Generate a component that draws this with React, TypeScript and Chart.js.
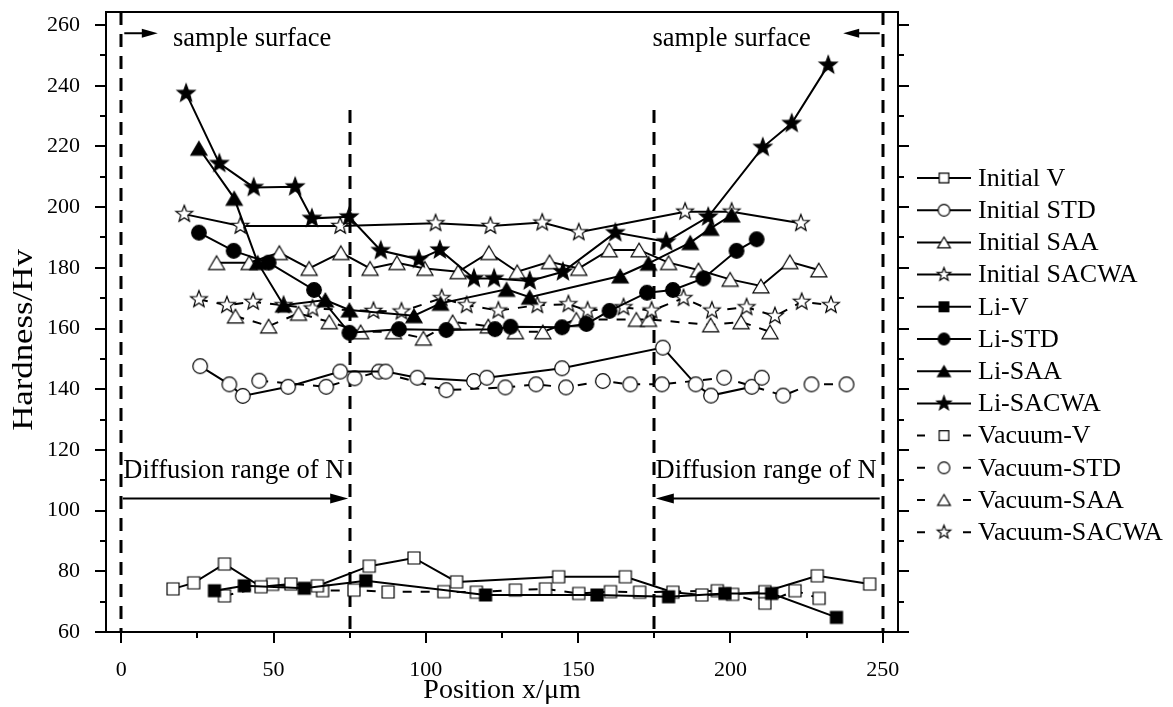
import React, { useEffect, useRef } from 'react';
import { Chart, registerables } from 'chart.js';

Chart.register(...registerables);

const FONT_FAMILY = '"Liberation Serif", "Times New Roman", Times, serif';

// ---------------- data ----------------
const seriesNames = [
  'Initial V', 'Initial STD', 'Initial SAA', 'Initial SACWA',
  'Li-V', 'Li-STD', 'Li-SAA', 'Li-SACWA',
  'Vacuum-V', 'Vacuum-STD', 'Vacuum-SAA', 'Vacuum-SACWA',
];

const initialVX = [17, 23.8, 33.9, 45.9, 55.7, 64.4, 81.4, 96.1, 110.1, 143.6, 165.5, 181.1, 190.6, 200.7, 211.3, 228.5, 245.7];
const initialVY = [74.2, 76.2, 82.4, 74.9, 75.8, 75.2, 81.7, 84.4, 76.5, 78.2, 78.2, 73.1, 72.2, 72.4, 73.3, 78.5, 75.8];

const initialSTDX = [25.9, 35.5, 39.9, 54.8, 71.9, 86.8, 97.2, 115.8, 120, 144.7, 177.8, 188.6, 193.6, 207, 210.3];
const initialSTDY = [147.6, 141.6, 137.8, 140.8, 145.8, 145.8, 143.8, 142.7, 143.8, 146.9, 153.7, 141.6, 137.9, 140.8, 143.8];

const initialSAAX = [31.3, 42, 51.9, 61.7, 72.1, 81.7, 90.5, 99.7, 110.6, 120.7, 130, 140.6, 150.2, 160.2, 170, 179.7, 189.5, 199.9, 210, 219.5, 229];
const initialSAAY = [181.7, 181.7, 185, 179.8, 185, 179.8, 181.7, 179.8, 178.7, 185, 178.7, 182, 179.8, 185.9, 185.9, 181.7, 179.3, 176.2, 174, 182, 179.3];

const initialSACWAX = [20.7, 39.1, 71.9, 103.2, 121.2, 138.2, 150.2, 185.1, 200.4, 223.1];
const initialSACWAY = [197.7, 193.8, 193.8, 194.7, 193.8, 194.9, 191.7, 198.5, 198.5, 194.7];

const liVX = [30.6, 40.4, 60.1, 80.3, 119.6, 156.2, 179.7, 198.2, 213.5, 234.8];
const liVY = [73.6, 75.2, 74.4, 76.9, 72.2, 72.2, 71.6, 72.7, 72.7, 64.8];

const liSTDX = [25.5, 36.9, 48.4, 63.3, 74.9, 91.2, 106.7, 122.7, 127.8, 144.7, 152.7, 160.3, 172.6, 181.1, 191.1, 202, 208.6];
const liSTDY = [191.6, 185.6, 181.7, 172.7, 158.6, 159.8, 159.5, 159.8, 160.6, 160.4, 161.5, 165.8, 171.8, 172.7, 176.5, 185.6, 189.4];

const liSAAX = [25.5, 37.1, 44.8, 53.3, 67, 74.9, 96.1, 104.8, 126.5, 134.1, 163.8, 173.1, 186.8, 193.5, 200.4];
const liSAAY = [219.4, 202.9, 181.7, 167.7, 169.4, 166.1, 164.2, 168.3, 172.9, 170.3, 177.3, 181.5, 188.3, 193, 197.4];

const liSACWAX = [21.3, 32.2, 43.5, 57.1, 62.6, 74.8, 85.2, 97.7, 104.6, 115.8, 122.4, 134.1, 145, 162.2, 178.9, 192.7, 210.6, 220.1, 232.1];
const liSACWAY = [237.5, 214.4, 206.5, 206.7, 196.3, 196.8, 185.7, 182.8, 185.9, 176.5, 176.5, 175.7, 178.7, 191.6, 188.6, 196.8, 219.7, 227.6, 246.8];

const vacuumVX = [33.9, 49.7, 66.1, 76.4, 87.6, 105.9, 116.6, 129.4, 139.3, 150.2, 160.6, 170.2, 195.7, 211.3, 221.2, 229.1];
const vacuumVY = [71.9, 75.7, 73.6, 73.8, 73.2, 73.3, 73.1, 73.8, 74.2, 72.7, 73.3, 73.1, 73.6, 69.5, 73.6, 71.1];

const vacuumSTDX = [45.3, 67.3, 76.6, 84.6, 106.7, 126.1, 136.2, 146, 158.1, 167.1, 177.5, 197.9, 217.3, 226.6, 238.1];
const vacuumSTDY = [142.8, 140.8, 143.6, 145.8, 139.7, 140.6, 141.6, 140.6, 142.7, 141.6, 141.6, 143.8, 137.9, 141.6, 141.6];

const vacuumSAAX = [37.5, 48.4, 58.2, 68.3, 78.6, 89.4, 99.2, 108.8, 120.5, 129.4, 138.4, 149.4, 169.1, 173.1, 193.5, 203.5, 213];
const vacuumSAAY = [164.1, 160.8, 165, 162.2, 158.9, 158.9, 156.8, 162.2, 160.8, 158.9, 158.9, 163, 163, 163, 161.2, 162.2, 158.9];

const vacuumSACWAX = [25.5, 34.7, 43.3, 53.3, 62.8, 82.8, 92, 105.2, 113.4, 123.8, 136.6, 146.8, 153.1, 164.9, 174.1, 184.6, 193.9, 205.3, 214.6, 223.4, 233];
const vacuumSACWAY = [169.6, 167.7, 168.8, 167.7, 166.6, 165.8, 165.6, 170, 167.7, 165.9, 167.7, 168, 165.9, 167, 165.9, 170, 165.9, 167, 164.1, 168.8, 167.7];

// axes
const xTickValues = [0, 50, 100, 150, 200, 250];
const xMinorValues = [25, 75, 125, 175, 225];
const yTickValues = [60, 80, 100, 120, 140, 160, 180, 200, 220, 240, 260];
const yMinorValues = [70, 90, 110, 130, 150, 170, 190, 210, 230, 250];

// annotations (data units)
const surfaceLineXs = [0, 250];
const diffusionLineXs = [75, 175];
const diffusionLineTop = 232;
const surfaceArrowY = 257.3;
const surfaceTextY = 255.4;
const diffusionArrowY = 104;
const diffusionTextY = 112.9;

// ---------------- markers ----------------
type MarkerKind = 'square' | 'circle' | 'triangle' | 'star';

function makeMarker(kind: MarkerKind, filled: boolean, scale = 1): HTMLCanvasElement {
  const size = Math.ceil(26 * scale);
  const c = document.createElement('canvas');
  c.width = size;
  c.height = size;
  const ctx = c.getContext('2d')!;
  const cx = size / 2;
  const cy = size / 2;
  ctx.beginPath();
  if (kind === 'square') {
    const h = 6 * scale;
    ctx.rect(cx - h, cy - h, 2 * h, 2 * h);
  } else if (kind === 'circle') {
    ctx.arc(cx, cy, 7.3 * scale, 0, Math.PI * 2);
  } else if (kind === 'triangle') {
    const w = 8 * scale;
    const hh = 6.8 * scale;
    ctx.moveTo(cx, cy - hh);
    ctx.lineTo(cx + w, cy + hh);
    ctx.lineTo(cx - w, cy + hh);
    ctx.closePath();
  } else {
    const R = (filled ? 9.3 : 8.8) * scale;
    const r = R * 0.42;
    for (let i = 0; i < 10; i++) {
      const ang = -Math.PI / 2 + (i * Math.PI) / 5;
      const rad = i % 2 === 0 ? R : r;
      const px = cx + rad * Math.cos(ang);
      const py = cy + rad * Math.sin(ang);
      if (i === 0) ctx.moveTo(px, py);
      else ctx.lineTo(px, py);
    }
    ctx.closePath();
  }
  ctx.fillStyle = filled ? '#000' : '#fff';
  ctx.fill();
  ctx.lineWidth = 1.2;
  ctx.strokeStyle = '#000';
  ctx.lineJoin = 'miter';
  ctx.stroke();
  return c;
}

const seriesKinds: MarkerKind[] = ['square', 'circle', 'triangle', 'star', 'square', 'circle', 'triangle', 'star', 'square', 'circle', 'triangle', 'star'];
const seriesFilled = [false, false, false, false, true, true, true, true, false, false, false, false];
const seriesDashed = [false, false, false, false, false, false, false, false, true, true, true, true];

function drawArrow(ctx: CanvasRenderingContext2D, x1: number, y: number, x2: number, headLen: number, headHalf: number) {
  const dir = x2 > x1 ? 1 : -1;
  ctx.beginPath();
  ctx.moveTo(x1, y);
  ctx.lineTo(x2 - dir * headLen * 0.6, y);
  ctx.lineWidth = 2;
  ctx.strokeStyle = '#000';
  ctx.stroke();
  ctx.beginPath();
  ctx.moveTo(x2, y);
  ctx.lineTo(x2 - dir * headLen, y - headHalf);
  ctx.lineTo(x2 - dir * headLen, y + headHalf);
  ctx.closePath();
  ctx.fillStyle = '#000';
  ctx.fill();
}

export default function App() {
  const canvasRef = useRef<HTMLCanvasElement | null>(null);

  useEffect(() => {
    const canvas = canvasRef.current;
    if (!canvas) return;

    const xs = [initialVX, initialSTDX, initialSAAX, initialSACWAX, liVX, liSTDX, liSAAX, liSACWAX, vacuumVX, vacuumSTDX, vacuumSAAX, vacuumSACWAX];
    const ys = [initialVY, initialSTDY, initialSAAY, initialSACWAY, liVY, liSTDY, liSAAY, liSACWAY, vacuumVY, vacuumSTDY, vacuumSAAY, vacuumSACWAY];

    const markers = seriesKinds.map((k, i) => makeMarker(k, seriesFilled[i], 1));
    const legendMarkers = seriesKinds.map((k, i) => makeMarker(k, seriesFilled[i], 0.8));

    const datasets = seriesNames.map((name, i) => ({
      label: name,
      data: xs[i].map((x, j) => ({ x, y: ys[i][j] })),
      borderColor: '#000',
      backgroundColor: '#000',
      borderWidth: 2,
      borderDash: seriesDashed[i] ? [9, 9] : [],
      pointStyle: markers[i] as any,
      pointRadius: 8,
      pointHoverRadius: 8,
      fill: false,
      tension: 0,
      order: i < 8 ? 12 - i : 20 - i,
    }));

    const decorPlugin = {
      id: 'decor',
      beforeDatasetsDraw(chart: any) {
        const { ctx, chartArea } = chart;
        const sx = chart.scales.x;
        const sy = chart.scales.y;
        ctx.save();
        // vertical dashed lines
        ctx.setLineDash([13, 9]);
        ctx.lineWidth = 3;
        ctx.strokeStyle = '#000';
        surfaceLineXs.forEach((v) => {
          const px = Math.round(sx.getPixelForValue(v));
          ctx.beginPath();
          ctx.moveTo(px, chartArea.top);
          ctx.lineTo(px, chartArea.bottom);
          ctx.stroke();
        });
        diffusionLineXs.forEach((v) => {
          const px = Math.round(sx.getPixelForValue(v));
          ctx.beginPath();
          ctx.moveTo(px, sy.getPixelForValue(diffusionLineTop));
          ctx.lineTo(px, chartArea.bottom);
          ctx.stroke();
        });
        ctx.setLineDash([]);
        // arrows
        const ySurf = sy.getPixelForValue(surfaceArrowY);
        drawArrow(ctx, sx.getPixelForValue(1), ySurf, sx.getPixelForValue(12), 16, 4.5);
        drawArrow(ctx, sx.getPixelForValue(249), ySurf, sx.getPixelForValue(237), 16, 4.5);
        const yDiff = sy.getPixelForValue(diffusionArrowY);
        drawArrow(ctx, sx.getPixelForValue(0.5), yDiff, sx.getPixelForValue(74.5), 18, 5);
        drawArrow(ctx, sx.getPixelForValue(249), yDiff, sx.getPixelForValue(175.5), 18, 5);
        // texts
        ctx.fillStyle = '#000';
        ctx.font = `26.5px ${FONT_FAMILY}`;
        ctx.textBaseline = 'middle';
        ctx.textAlign = 'left';
        const yst = sy.getPixelForValue(surfaceTextY);
        ctx.fillText('sample surface', sx.getPixelForValue(17), yst);
        ctx.fillText('sample surface', sx.getPixelForValue(174.4), yst);
        const ydt = sy.getPixelForValue(diffusionTextY);
        ctx.fillText('Diffusion range of N', sx.getPixelForValue(0.7), ydt);
        ctx.fillText('Diffusion range of N', sx.getPixelForValue(175.4), ydt);
        ctx.restore();
      },
      afterDraw(chart: any) {
        const { ctx, chartArea } = chart;
        const sx = chart.scales.x;
        const sy = chart.scales.y;
        ctx.save();
        ctx.strokeStyle = '#000';
        ctx.lineWidth = 2;
        ctx.setLineDash([]);
        // frame
        ctx.strokeRect(chartArea.left, chartArea.top, chartArea.right - chartArea.left, chartArea.bottom - chartArea.top);
        // ticks
        ctx.beginPath();
        xTickValues.forEach((v) => {
          const px = Math.round(sx.getPixelForValue(v));
          ctx.moveTo(px, chartArea.bottom);
          ctx.lineTo(px, chartArea.bottom + 11);
        });
        xMinorValues.forEach((v) => {
          const px = Math.round(sx.getPixelForValue(v));
          ctx.moveTo(px, chartArea.bottom);
          ctx.lineTo(px, chartArea.bottom + 6);
        });
        yTickValues.forEach((v) => {
          const py = Math.round(sy.getPixelForValue(v));
          ctx.moveTo(chartArea.left - 11, py);
          ctx.lineTo(chartArea.left, py);
          ctx.moveTo(chartArea.right, py);
          ctx.lineTo(chartArea.right + 11, py);
        });
        yMinorValues.forEach((v) => {
          const py = Math.round(sy.getPixelForValue(v));
          ctx.moveTo(chartArea.left - 6, py);
          ctx.lineTo(chartArea.left, py);
          ctx.moveTo(chartArea.right, py);
          ctx.lineTo(chartArea.right + 6, py);
        });
        ctx.stroke();

        // axis titles
        ctx.fillStyle = '#000';
        ctx.font = `28px ${FONT_FAMILY}`;
        ctx.textAlign = 'center';
        ctx.textBaseline = 'middle';
        ctx.fillText('Position x/\u03bcm', (chartArea.left + chartArea.right) / 2, 691);
        ctx.save();
        ctx.translate(24, 340);
        ctx.rotate(-Math.PI / 2);
        ctx.scale(1.2, 1);
        ctx.font = `29px ${FONT_FAMILY}`;
        ctx.fillText('Hardness/Hv', 0, 0);
        ctx.restore();

        // legend
        const lx0 = 917;
        const lx1 = 971;
        const lmx = 944;
        const ltx = 978;
        const ly0 = 178;
        const ldy = 32.2;
        ctx.font = `26px ${FONT_FAMILY}`;
        ctx.textAlign = 'left';
        ctx.textBaseline = 'middle';
        seriesNames.forEach((name, i) => {
          const y = ly0 + i * ldy;
          ctx.lineWidth = 2;
          ctx.beginPath();
          if (seriesDashed[i]) {
            ctx.moveTo(lx0, y);
            ctx.lineTo(lx0 + 8, y);
            ctx.moveTo(lx1 - 8, y);
            ctx.lineTo(lx1, y);
          } else {
            ctx.moveTo(lx0, y);
            ctx.lineTo(lx1, y);
          }
          ctx.stroke();
          const m = legendMarkers[i];
          ctx.drawImage(m, lmx - m.width / 2, y - m.height / 2);
          ctx.fillText(name, ltx, y + 1);
        });
        ctx.restore();
      },
    };

    const chart = new Chart(canvas, {
      type: 'line',
      data: { datasets: datasets as any },
      options: {
        responsive: false,
        animation: false,
        devicePixelRatio: 1,
        layout: { padding: { top: 12, right: 275, bottom: 0, left: 0 } },
        plugins: {
          legend: { display: false },
          tooltip: { enabled: false },
          title: { display: false },
        },
        scales: {
          x: {
            type: 'linear',
            min: -5,
            max: 255,
            afterBuildTicks: (s: any) => {
              s.ticks = xTickValues.map((v) => ({ value: v }));
            },
            afterFit: (s: any) => {
              s.height = 75;
              s.paddingLeft = 0;
              s.paddingRight = 0;
            },
            grid: { display: false },
            border: { display: false },
            ticks: {
              color: '#000',
              font: { family: FONT_FAMILY, size: 22 },
              padding: 17,
              maxRotation: 0,
              autoSkip: false,
            },
          },
          y: {
            type: 'linear',
            min: 60,
            max: 264.3,
            afterBuildTicks: (s: any) => {
              s.ticks = yTickValues.map((v) => ({ value: v }));
            },
            afterFit: (s: any) => {
              s.width = 106;
              s.paddingTop = 0;
              s.paddingBottom = 0;
            },
            grid: { display: false },
            border: { display: false },
            ticks: {
              color: '#000',
              font: { family: FONT_FAMILY, size: 22 },
              padding: 18,
              autoSkip: false,
            },
          },
        },
      } as any,
      plugins: [decorPlugin],
    });

    return () => {
      chart.destroy();
    };
  }, []);

  return (
    <div style={{ position: 'fixed', left: 0, top: 0, width: 1173, height: 707, background: '#fff' }}>
      <canvas ref={canvasRef} width={1173} height={707} style={{ width: 1173, height: 707, display: 'block' }} />
    </div>
  );
}
